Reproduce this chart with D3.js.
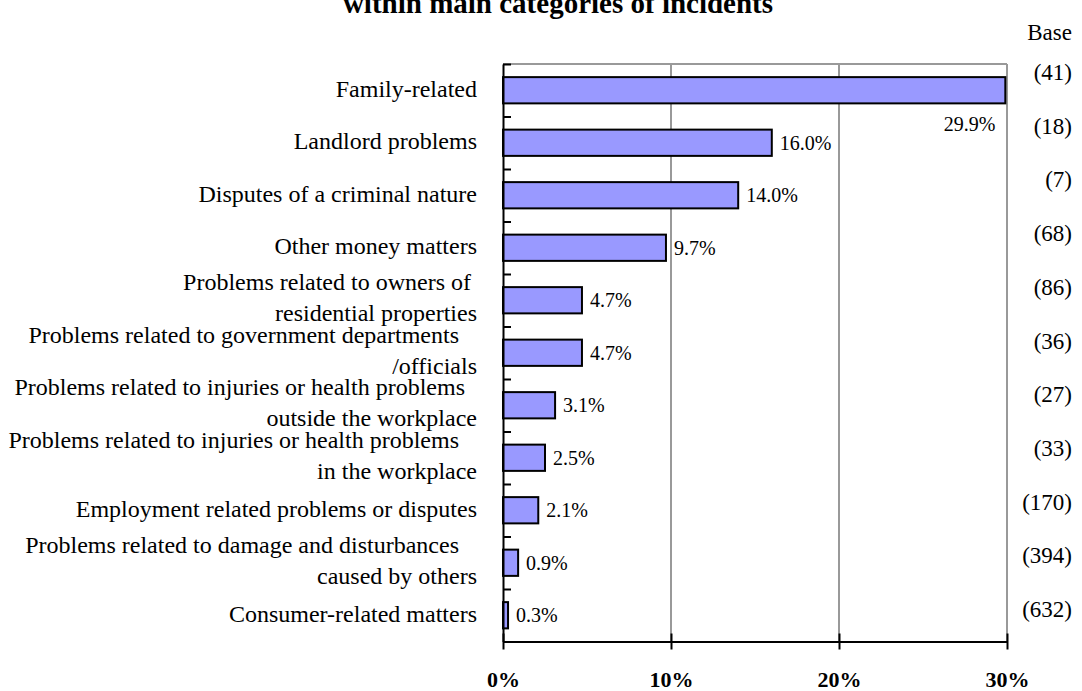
<!DOCTYPE html>
<html>
<head>
<meta charset="utf-8">
<script src="https://cdn.jsdelivr.net/npm/d3@7"></script>
<style>
  html, body { margin: 0; padding: 0; background: #fff; }
  svg { display: block; }
  text { font-family: "Liberation Serif", "Times New Roman", serif; fill: #000; }
</style>
</head>
<body>
<svg id="chart" width="1082" height="691"></svg>
<script>
// ---- data ----
const titleText = "within main categories of incidents";
const categories = [
  "Family-related",
  "Landlord problems",
  "Disputes of a criminal nature",
  "Other money matters",
  "Problems related to owners of \nresidential properties",
  "Problems related to government departments   \n/officials",
  "Problems related to injuries or health problems  \noutside the workplace",
  "Problems related to injuries or health problems   \nin the workplace",
  "Employment related problems or disputes",
  "Problems related to damage and disturbances   \ncaused by others",
  "Consumer-related matters"
];
const values = [29.9, 16.0, 14.0, 9.7, 4.7, 4.7, 3.1, 2.5, 2.1, 0.9, 0.3];
const bases = [41, 18, 7, 68, 86, 36, 27, 33, 170, 394, 632];
const xTicks = [0, 10, 20, 30];
const baseHeader = "Base";

// ---- layout ----
const svg = d3.select("#chart");
const x0 = 503, x1 = 1007, yTop = 64, yBot = 641.5;

const x = d3.scaleLinear().domain([0, 30]).range([x0, x1]);
const y = d3.scaleBand().domain(categories).range([yTop, yBot])
  .paddingInner(0.5).paddingOuter(0.25);
const yBase = d3.scalePoint().domain(categories).range([80, 617]);
const yBound = d3.scaleLinear().domain([0, categories.length]).range([yTop, yBot]);

// title (first line is outside the frame)
svg.append("text")
  .attr("x", 558).attr("y", 13)
  .attr("text-anchor", "middle")
  .style("font-weight", "bold").style("font-size", "29px")
  .text(titleText);

// gridlines
svg.append("g").selectAll("line")
  .data(xTicks.filter(d => d > 0))
  .join("line")
  .attr("x1", d => x(d)).attr("x2", d => x(d))
  .attr("y1", yTop).attr("y2", yBot)
  .attr("stroke", "#999").attr("stroke-width", 2);

// top border
svg.append("line")
  .attr("x1", x0).attr("x2", x1).attr("y1", yTop).attr("y2", yTop)
  .attr("stroke", "#999").attr("stroke-width", 2);

// bars
svg.append("g").selectAll("rect")
  .data(categories)
  .join("rect")
  .attr("x", x(0))
  .attr("y", d => y(d))
  .attr("width", (d, i) => x(values[i]) - x(0))
  .attr("height", y.bandwidth())
  .attr("fill", "#9999FF")
  .attr("stroke", "#000").attr("stroke-width", 2);

// left axis (ticks at band boundaries pointing inward)
const leftAxis = svg.append("g")
  .attr("transform", `translate(${x0},0)`)
  .call(d3.axisRight(yBound).tickValues(d3.range(categories.length + 1))
    .tickSize(8).tickSizeOuter(0).tickFormat(""));
leftAxis.selectAll("path, line").attr("stroke", "#000").attr("stroke-width", 2);

// bottom axis
const bottomAxis = svg.append("g")
  .attr("transform", `translate(0,${yBot})`)
  .call(d3.axisBottom(x).tickValues(xTicks).tickSize(8).tickSizeOuter(0)
    .tickFormat(d => d + "%"));
bottomAxis.selectAll("path, line").attr("stroke", "#000").attr("stroke-width", 2);
bottomAxis.selectAll(".tick line").attr("y1", -8).attr("y2", 8);
bottomAxis.selectAll(".tick text")
  .attr("y", 45.5).attr("dy", 0)
  .style("font-family", '"Liberation Serif", "Times New Roman", serif')
  .style("font-weight", "bold").style("font-size", "22px")
  .attr("fill", "#000");

// category labels
const catG = svg.append("g");
categories.forEach(c => {
  const lines = c.split("\n");
  const cy = y(c) + y.bandwidth() / 2;
  const t = catG.append("text")
    .attr("text-anchor", "end")
    .attr("xml:space", "preserve")
    .style("white-space", "pre")
    .style("font-size", "24px");
  if (lines.length === 1) {
    t.append("tspan").attr("x", 477).attr("y", cy + 6.5).text(lines[0]);
  } else {
    t.append("tspan").attr("x", 477).attr("y", cy - 10).text(lines[0]);
    t.append("tspan").attr("x", 477).attr("y", cy + 21).text(lines[1]);
  }
});

// value labels
svg.append("g").selectAll("text")
  .data(categories)
  .join("text")
  .style("font-size", "20px")
  .each(function (d, i) {
    const v = values[i];
    const cy = y(d) + y.bandwidth() / 2;
    const sel = d3.select(this);
    if (x(v) > x(28)) {
      sel.attr("text-anchor", "end").attr("x", x(v) - 10).attr("y", cy + 40.5);
    } else {
      sel.attr("text-anchor", "start").attr("x", x(v) + 8).attr("y", cy + 7);
    }
  })
  .text((d, i) => values[i].toFixed(1) + "%");

// base header and labels
svg.append("text")
  .attr("x", 1072).attr("y", 40).attr("text-anchor", "end")
  .style("font-size", "23px")
  .text(baseHeader);

svg.append("g").selectAll("text")
  .data(categories)
  .join("text")
  .attr("x", 1072)
  .attr("y", d => yBase(d))
  .attr("text-anchor", "end")
  .style("font-size", "23px")
  .text((d, i) => "(" + bases[i] + ")");
</script>
</body>
</html>
